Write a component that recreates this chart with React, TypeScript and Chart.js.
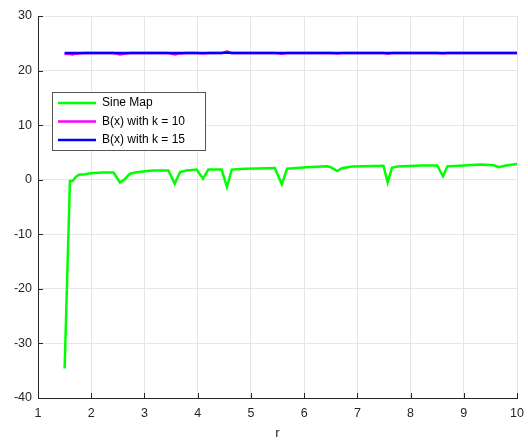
import React, { useEffect, useRef } from "react";
import { Chart, registerables } from "chart.js";

Chart.register(...registerables);

const rVals = [
  1.5, 1.6, 1.65, 1.71, 1.77, 1.88, 2.0, 2.2, 2.42, 2.54, 2.62, 2.73, 2.85,
  3.1, 3.2, 3.45, 3.57, 3.67, 3.79, 3.98, 4.1, 4.2, 4.45, 4.55, 4.64, 4.8,
  4.89, 5.11, 5.45, 5.58, 5.68, 6.05, 6.43, 6.5, 6.62, 6.71, 6.9, 7.49, 7.57,
  7.65, 7.75, 8.2, 8.5, 8.61, 8.69, 9.0, 9.31, 9.56, 9.66, 9.79, 10.0,
];

const sineMap = [
  -34.6, -0.25, -0.25, 0.5, 0.9, 1.0, 1.2, 1.3, 1.3, -0.5, 0.0, 1.1, 1.35,
  1.65, 1.7, 1.7, -0.75, 1.4, 1.7, 1.85, 0.2, 1.85, 1.85, -1.35, 1.85, 1.95,
  2.0, 2.05, 2.15, -0.85, 2.0, 2.3, 2.45, 2.3, 1.6, 2.1, 2.4, 2.55, -0.5,
  2.2, 2.4, 2.6, 2.6, 0.6, 2.45, 2.6, 2.8, 2.65, 2.3, 2.6, 2.9,
];

const bK10 = [
  23.1, 23.05, 22.95, 23.1, 23.15, 23.2, 23.2, 23.2, 23.2, 22.95, 23.1, 23.2,
  23.2, 23.2, 23.2, 23.2, 22.95, 23.15, 23.2, 23.2, 23.15, 23.2, 23.2, 23.5,
  23.2, 23.2, 23.2, 23.2, 23.2, 23.1, 23.2, 23.2, 23.2, 23.2, 23.15, 23.2,
  23.2, 23.2, 23.1, 23.2, 23.2, 23.2, 23.2, 23.15, 23.2, 23.2, 23.2, 23.2,
  23.2, 23.2, 23.2,
];

const bK15 = [
  23.2, 23.2, 23.2, 23.2, 23.2, 23.2, 23.2, 23.2, 23.2, 23.2, 23.2, 23.2,
  23.2, 23.2, 23.2, 23.2, 23.2, 23.2, 23.2, 23.2, 23.2, 23.2, 23.2, 23.3,
  23.2, 23.2, 23.2, 23.2, 23.2, 23.2, 23.2, 23.2, 23.2, 23.2, 23.2, 23.2,
  23.2, 23.2, 23.2, 23.2, 23.2, 23.2, 23.2, 23.2, 23.2, 23.2, 23.2, 23.2,
  23.2, 23.2, 23.2,
];

const seriesNames = ["Sine Map", "B(x) with k = 10", "B(x) with k = 15"];
const seriesColors = ["#00ff00", "#ff00ff", "#0000ff"];
const xTickMin = 1;
const xTickMax = 10;
const yTickMin = -40;
const yTickMax = 30;

const FONT = "'Liberation Sans', Arial, Helvetica, sans-serif";
const AXIS = "#262626";

const inwardTicks = {
  id: "inwardTicks",
  afterDatasetsDraw(chart: any) {
    const { ctx, chartArea, scales } = chart;
    ctx.save();
    ctx.strokeStyle = AXIS;
    ctx.lineWidth = 1;
    scales.x.ticks.forEach((t: any) => {
      const px = Math.round(scales.x.getPixelForValue(t.value)) + 0.5;
      ctx.beginPath();
      ctx.moveTo(px, chartArea.bottom);
      ctx.lineTo(px, chartArea.bottom - 5);
      ctx.stroke();
    });
    scales.y.ticks.forEach((t: any) => {
      const py = Math.round(scales.y.getPixelForValue(t.value)) + 0.5;
      ctx.beginPath();
      ctx.moveTo(chartArea.left, py);
      ctx.lineTo(chartArea.left + 5, py);
      ctx.stroke();
    });
    ctx.restore();
  },
};

const boxLegend = {
  id: "boxLegend",
  afterDraw(chart: any) {
    const { ctx, chartArea } = chart;
    const left = chartArea.left + 14;
    const top = chartArea.top + 76;
    const w = 153;
    const h = 58;
    ctx.save();
    ctx.fillStyle = "#ffffff";
    ctx.fillRect(left, top, w, h);
    ctx.strokeStyle = "#555555";
    ctx.lineWidth = 1;
    ctx.strokeRect(Math.round(left) + 0.5, Math.round(top) + 0.5, w, h);
    ctx.font = `12px ${FONT}`;
    ctx.textBaseline = "middle";
    seriesNames.forEach((name, i) => {
      const y = top + 11 + i * 18.5;
      ctx.strokeStyle = seriesColors[i];
      ctx.lineWidth = 2.5;
      ctx.beginPath();
      ctx.moveTo(left + 6, y);
      ctx.lineTo(left + 44, y);
      ctx.stroke();
      ctx.fillStyle = "#000000";
      ctx.fillText(name, left + 50, y);
    });
    ctx.restore();
  },
};

export default function App() {
  const ref = useRef<HTMLCanvasElement | null>(null);

  useEffect(() => {
    document.body.style.margin = "0";
    if (!ref.current) return;
    const mk = (vals: number[]) => rVals.map((x, i) => ({ x, y: vals[i] }));
    const chart = new Chart(ref.current, {
      type: "line",
      data: {
        datasets: [
          {
            label: seriesNames[0],
            data: mk(sineMap),
            borderColor: seriesColors[0],
            borderWidth: 2.5,
            pointRadius: 0,
            tension: 0,
            order: 2,
          },
          {
            label: seriesNames[1],
            data: mk(bK10),
            borderColor: seriesColors[1],
            borderWidth: 2.5,
            pointRadius: 0,
            tension: 0,
            order: 1,
          },
          {
            label: seriesNames[2],
            data: mk(bK15),
            borderColor: seriesColors[2],
            borderWidth: 2.5,
            pointRadius: 0,
            tension: 0,
            order: 0,
          },
        ],
      },
      options: {
        animation: false,
        responsive: true,
        maintainAspectRatio: false,
        layout: { padding: { top: 16, right: 7, left: 0, bottom: 0 } },
        plugins: {
          legend: { display: false },
          tooltip: { enabled: false },
        },
        scales: {
          x: {
            type: "linear",
            min: xTickMin,
            max: xTickMax,
            ticks: {
              stepSize: 1,
              color: AXIS,
              font: { family: FONT, size: 12.5 },
              padding: 8,
              maxRotation: 0,
            },
            grid: { color: "#e6e6e6", drawTicks: false },
            border: { display: true, color: AXIS, width: 1 },
            title: {
              display: true,
              text: "r",
              color: AXIS,
              font: { family: FONT, size: 13.5 },
              padding: { top: 6, bottom: 0 },
            },
            afterFit: (s: any) => {
              s.height = 43;
            },
          },
          y: {
            type: "linear",
            min: yTickMin,
            max: yTickMax,
            ticks: {
              stepSize: 10,
              color: AXIS,
              font: { family: FONT, size: 12.5 },
              padding: 6,
            },
            grid: { color: "#e6e6e6", drawTicks: false },
            border: { display: true, color: AXIS, width: 1 },
            afterFit: (s: any) => {
              s.width = 38;
            },
          },
        },
      },
      plugins: [inwardTicks, boxLegend],
    });
    return () => chart.destroy();
  }, []);

  return (
    <div style={{ position: "fixed", left: 0, top: 0, width: 532, height: 441 }}>
      <canvas ref={ref} />
    </div>
  );
}
